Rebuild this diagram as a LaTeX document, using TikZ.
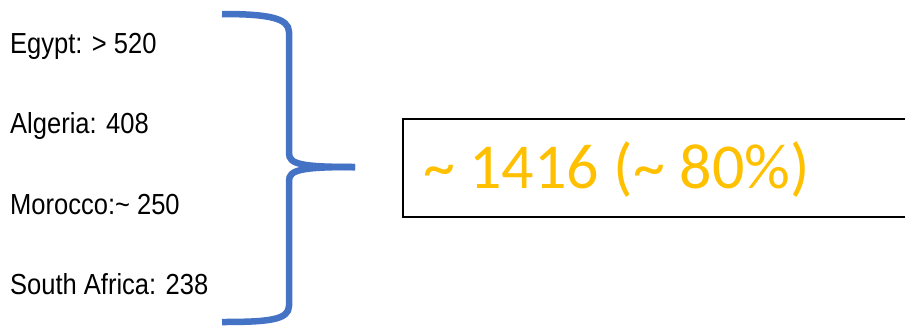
\documentclass[tikz,border=0pt]{standalone}
\usepackage{fontspec}
\setmainfont{Liberation Sans}
\newfontfamily\labelfont[FakeStretch=0.88]{Liberation Sans}
\newfontfamily\sumfont{Carlito}
\usepackage{tikz}
\usetikzlibrary{positioning}
\definecolor{braceblue}{HTML}{4472C4}
\definecolor{sumgold}{HTML}{FFC000}

\begin{document}
\begin{tikzpicture}[x=1pt, y=-1pt,
  country/.style={anchor=base west, inner sep=0pt, font=\labelfont\fontsize{29}{34}\selectfont},
  sumtext/.style={anchor=base west, inner sep=0pt, text=sumgold,
    font=\sumfont\fontsize{64}{72}\selectfont},
  bracket/.style={draw=braceblue, line width=6.5pt, line cap=butt}]
\useasboundingbox (0,0) rectangle (905,325);

% countries
\foreach \i/\y/\t in {1/53/{Egypt: > 520}, 2/133/{Algeria: 408},
    3/214/{Morocco:\textasciitilde{} 250}, 4/294/{South Africa: 238}}
  \node[country] (c\i) at (10,\y) {\t};

% the brace
\coordinate (top) at (222,14);
\coordinate (tip) at (355,167);
\coordinate (bot) at (222,322);
\draw[bracket] (top) .. controls (268,14) and (289,18) .. (289,32) -- (289,153)
  .. controls (289,164) and (300,167) .. (tip);
\draw[bracket] (tip) .. controls (300,167) and (289,170) .. (289,181) -- (289,306)
  .. controls (289,320) and (268,322) .. (bot);

% total, box runs off the right edge
\coordinate (boxnw) at (403,119);
\coordinate (boxsw) at (403,217);
\coordinate (boxne) at (910,119);
\coordinate (boxse) at (910,217);
\draw[line width=2pt] (boxne) -- (boxnw) -- (boxsw) -- (boxse);
\node[sumtext] (sum) at (423,188) {\spaceskip=14.5pt\relax\textasciitilde{} 1416 (\textasciitilde{} 80\%)};
\end{tikzpicture}
\end{document}
